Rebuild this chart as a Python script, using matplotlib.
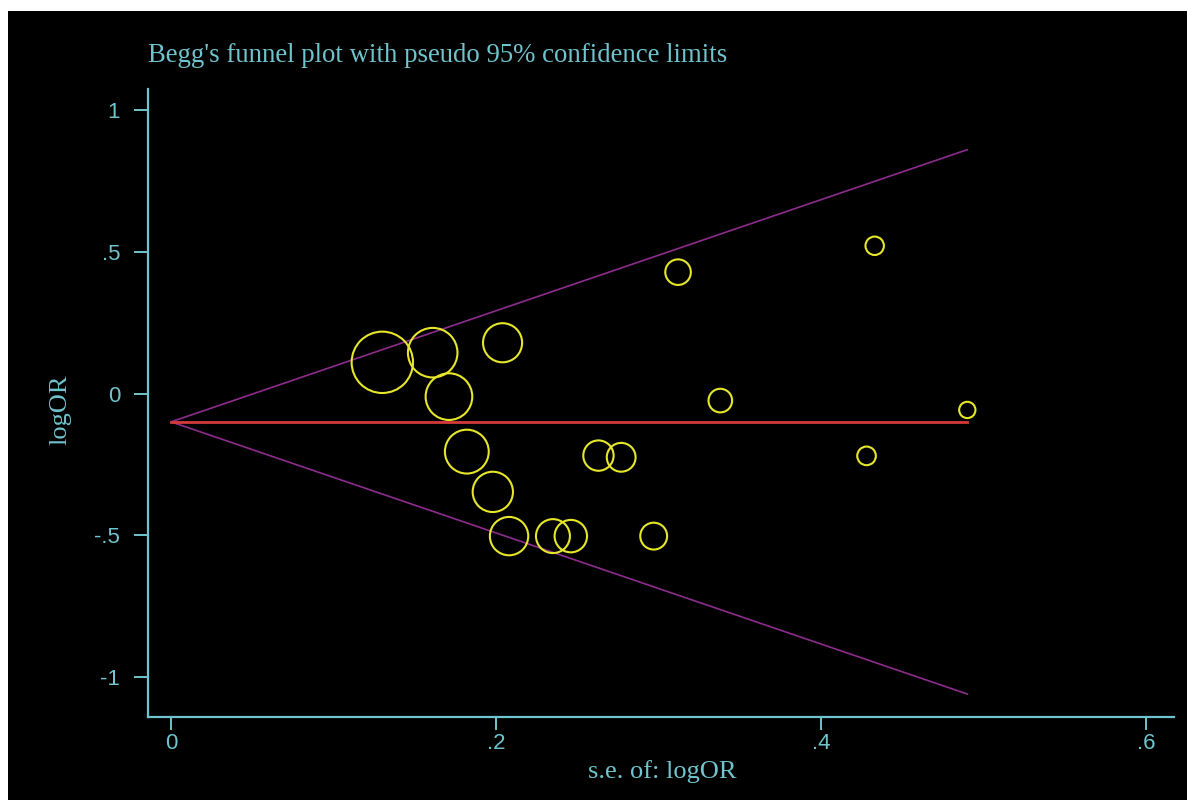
import matplotlib
matplotlib.use("Agg")
import numpy as np
import matplotlib.pyplot as plt
from matplotlib.patches import Rectangle

# study estimates
se = [0.130, 0.161, 0.171, 0.204, 0.182, 0.198, 0.208, 0.235, 0.246,
      0.263, 0.277, 0.297, 0.312, 0.338, 0.433, 0.428, 0.490]
logor = [0.110, 0.144, -0.011, 0.179, -0.205, -0.347, -0.503, -0.503, -0.503,
         -0.219, -0.225, -0.503, 0.428, -0.025, 0.521, -0.220, -0.058]

# pooled estimate and pseudo 95% limits
se_line = [0.0, 0.49]
pooled = [-0.10, -0.10]
upper_limit = [-0.10, 0.86]
lower_limit = [-0.10, -1.06]

xticks = [0, 0.2, 0.4, 0.6]
xticklabels = ['0', '.2', '.4', '.6']
yticks = [1, 0.5, 0, -0.5, -1]
yticklabels = ['1', '.5', '0', '-.5', '-1']

cyan = '#70c4cd'
W, H = 1187, 800

fig = plt.figure(figsize=(W / 100, H / 100), dpi=100, facecolor='white')
# black plot region (white border only at top and left)
fig.patches.append(Rectangle((8 / W, 0), 1 - 8 / W, 1 - 11 / H,
                             transform=fig.transFigure, facecolor='black',
                             edgecolor='none', zorder=-10))

ax = fig.add_axes([148 / W, 1 - 717 / H, (1174 - 148) / W, (717 - 89) / H])
ax.set_facecolor('black')

ax.plot(se_line, upper_limit, color='#8e2c8e', lw=1.2)
ax.plot(se_line, lower_limit, color='#8e2c8e', lw=1.2)
ax.plot(se_line, pooled, color='#d43a3a', lw=2.0)

weights = 1 / np.array(se) ** 2
ax.scatter(se, logor, s=33 * weights, facecolors='none',
           edgecolors='#e6e62a', linewidths=1.5, zorder=3)

ax.set_xlim(-0.0142, 0.6172)
ax.set_ylim(-1.141, 1.074)

for side in ['top', 'right']:
    ax.spines[side].set_visible(False)
for side in ['left', 'bottom']:
    ax.spines[side].set_color(cyan)
    ax.spines[side].set_linewidth(1.6)

tick_font = ['Liberation Sans Narrow', 'Liberation Sans', 'DejaVu Sans']
ax.set_xticks(xticks)
ax.set_xticklabels(xticklabels, family=tick_font, fontsize=16, color=cyan)
ax.set_yticks(yticks)
ax.set_yticklabels(yticklabels, family=tick_font, fontsize=16, color=cyan)
ax.tick_params(axis='x', length=9.5, width=1.4, color=cyan, pad=2)
ax.tick_params(axis='y', length=10, width=1.4, color=cyan, pad=10)

ax.set_xlabel('s.e. of: logOR', family='Liberation Serif', fontsize=19, color=cyan)
ax.xaxis.set_label_coords(0.501, -0.068)
ax.set_ylabel('logOR', family='Liberation Serif', fontsize=19, color=cyan)
ax.yaxis.set_label_coords(-0.075, 0.49)

fig.text(148 / W, 1 - 56 / H, "Begg's funnel plot with pseudo 95% confidence limits",
         family='Liberation Serif', fontsize=19.3, color=cyan, ha='left', va='center')

plt.savefig('out.png', dpi=100, facecolor='white')
